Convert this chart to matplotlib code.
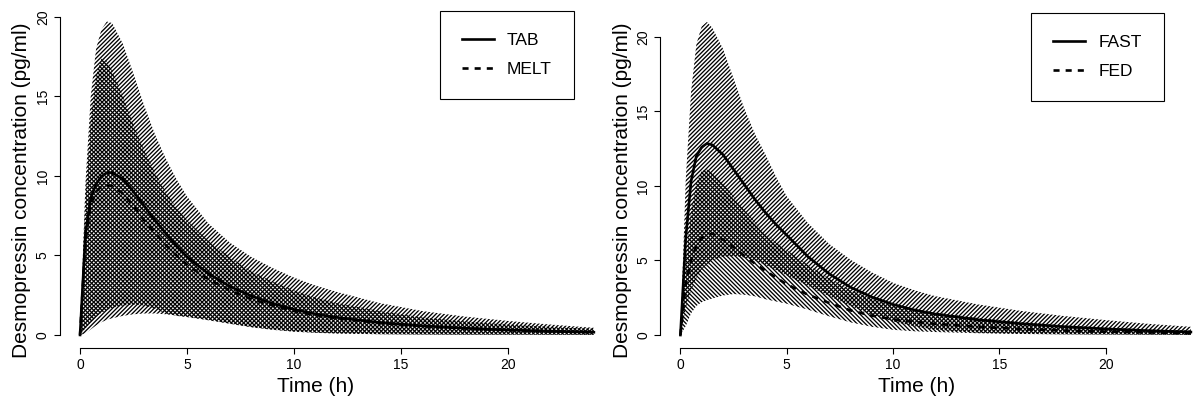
import numpy as np
import matplotlib.pyplot as plt

plt.rcParams['font.family'] = ['Liberation Sans', 'DejaVu Sans']
plt.rcParams['hatch.linewidth'] = 0.95

# sampling times (h)
t = np.array([0, 0.25, 0.5, 0.75, 1, 1.25, 1.5, 2, 2.5, 3, 3.5, 4, 4.5, 5,
              6, 7, 8, 9, 10, 11, 12, 14, 16, 18, 20, 22, 24])

# formulation: tablet vs melt
tab_mean = np.array([0, 6.3, 8.6, 9.5, 9.95, 10.2, 10.2, 9.8, 9.0, 8.1, 7.2, 6.4, 5.6, 4.9,
                     3.85, 3.05, 2.45, 1.98, 1.6, 1.32, 1.1, 0.78, 0.57, 0.42, 0.31, 0.23, 0.17])
tab_hi = np.array([0, 9.5, 15.0, 18.0, 19.2, 19.7, 19.6, 18.3, 16.4, 14.4, 12.6, 11.1, 9.8, 8.7,
                   7.0, 5.8, 4.9, 4.2, 3.6, 3.1, 2.7, 2.0, 1.5, 1.15, 0.88, 0.65, 0.45])
tab_lo = np.array([0, 0.1, 0.35, 0.6, 0.8, 0.95, 1.05, 1.2, 1.3, 1.35, 1.35, 1.3, 1.23, 1.15,
                   0.95, 0.72, 0.5, 0.34, 0.22, 0.15, 0.1, 0.05, 0.03, 0.02, 0.02, 0.01, 0.01])
melt_mean = np.array([0, 5.8, 8.2, 9.0, 9.35, 9.4, 9.35, 8.9, 8.1, 7.2, 6.4, 5.65, 5.0, 4.4,
                      3.5, 2.8, 2.25, 1.85, 1.5, 1.25, 1.05, 0.75, 0.55, 0.41, 0.3, 0.23, 0.17])
melt_hi = np.array([0, 8.5, 13.5, 16.3, 17.4, 17.2, 16.6, 15.0, 13.2, 11.6, 10.2, 9.0, 8.0, 7.2,
                    5.9, 4.9, 4.0, 3.35, 2.8, 2.35, 2.0, 1.5, 1.1, 0.85, 0.65, 0.5, 0.38])
melt_lo = np.array([0, 0.4, 0.8, 1.15, 1.4, 1.55, 1.7, 1.85, 1.9, 1.85, 1.65, 1.35, 1.2, 1.12,
                    0.92, 0.7, 0.48, 0.32, 0.2, 0.13, 0.09, 0.04, 0.02, 0.01, 0.01, 0.01, 0.0])

# food effect: fasted vs fed
fast_mean = np.array([0, 6.5, 10.3, 12.0, 12.6, 12.85, 12.75, 12.1, 11.1, 10.1, 9.1, 8.2, 7.4, 6.7,
                      5.25, 4.1, 3.2, 2.55, 2.05, 1.68, 1.4, 1.02, 0.76, 0.56, 0.41, 0.29, 0.2])
fast_hi = np.array([0, 10.4, 16.3, 19.5, 20.7, 21.0, 20.6, 19.2, 17.2, 15.2, 13.5, 12.1, 10.6, 9.3,
                    7.5, 6.1, 5.05, 4.2, 3.5, 3.0, 2.6, 2.05, 1.62, 1.28, 1.0, 0.75, 0.55])
fast_lo = np.array([0, 1.8, 3.0, 3.8, 4.4, 4.75, 5.0, 5.25, 5.3, 5.2, 5.0, 4.7, 4.35, 4.0,
                    3.3, 2.6, 1.95, 1.35, 0.9, 0.58, 0.35, 0.15, 0.08, 0.05, 0.03, 0.02, 0.01])
fed_mean = np.array([0, 3.4, 5.0, 6.0, 6.5, 6.7, 6.8, 6.4, 5.9, 5.3, 4.8, 4.3, 3.85, 3.4,
                     2.7, 2.15, 1.65, 1.3, 1.05, 0.88, 0.75, 0.55, 0.4, 0.3, 0.22, 0.17, 0.12])
fed_hi = np.array([0, 5.0, 8.3, 10.2, 11.0, 11.1, 10.9, 10.2, 9.3, 8.4, 7.6, 6.8, 6.2, 5.7,
                   4.7, 3.8, 3.0, 2.45, 2.0, 1.72, 1.5, 1.15, 0.88, 0.65, 0.5, 0.38, 0.3])
fed_lo = np.array([0, 0.6, 1.45, 1.95, 2.2, 2.35, 2.45, 2.65, 2.75, 2.7, 2.6, 2.4, 2.25, 2.1,
                   1.7, 1.25, 0.85, 0.55, 0.35, 0.25, 0.2, 0.12, 0.07, 0.04, 0.03, 0.02, 0.01])

ticks = [0, 5, 10, 15, 20]

W, H = 1193, 407
fig = plt.figure(figsize=(W / 100, H / 100), dpi=100)


def panel(rect, ylim, bands, labels, legend_corner, xlab_x, ylab_x, ylab_y):
    ax = fig.add_axes(rect)
    ax.patch.set_alpha(0)
    (m1, lo1, hi1), (m2, lo2, hi2) = bands
    ax.fill_between(t, lo1, hi1, facecolor='none', edgecolor='black',
                    hatch='/' * 8, linewidth=0)
    ax.fill_between(t, lo2, hi2, facecolor='none', edgecolor='black',
                    hatch='\\' * 8, linewidth=0)
    ax.plot(t, m1, color='black', lw=1.9, label=labels[0])
    ax.plot(t, m2, color='black', lw=1.9, dashes=(2.3, 2.3), label=labels[1])

    ax.set_xlim(-0.96, 24.1)
    ax.set_ylim(*ylim)
    ax.set_xticks(ticks)
    ax.set_yticks(ticks)
    for s in ['top', 'right']:
        ax.spines[s].set_visible(False)
    ax.spines['left'].set_bounds(0, 20)
    ax.spines['bottom'].set_bounds(0, 20)
    for s in ['left', 'bottom']:
        ax.spines[s].set_linewidth(0.8)
    ax.tick_params(length=4, width=0.8, labelsize=10, pad=3)
    ax.tick_params(axis='y', labelrotation=90)
    for lab in ax.get_yticklabels():
        lab.set_va('center')

    ax.set_xlabel('Time (h)', fontsize=15, va='center')
    ax.xaxis.set_label_coords(xlab_x, -0.113)
    ax.set_ylabel('Desmopressin concentration (pg/ml)', fontsize=15,
                  va='center', ha='center')
    ax.yaxis.set_label_coords(ylab_x, ylab_y)

    leg = ax.legend(loc='upper right', bbox_to_anchor=legend_corner,
                    bbox_transform=fig.transFigure, fontsize=12.5,
                    frameon=True, fancybox=False, framealpha=1,
                    handlelength=1.85, handletextpad=0.75, borderpad=1.28,
                    labelspacing=0.77, borderaxespad=0)
    leg.get_frame().set_edgecolor('black')
    leg.get_frame().set_linewidth(0.8)
    return ax


bottom = (H - 348) / H
height = 344 / H

panel([59.5 / W, bottom, 536.5 / W, height], (-0.82, 20.8),
      [(tab_mean, tab_lo, tab_hi), (melt_mean, melt_lo, melt_hi)],
      ['TAB', 'MELT'], (574 / W, 1 - 11 / H), 0.478, -0.07, 0.459)

panel([660 / W, bottom, 533 / W, height], (-0.87, 22.2),
      [(fast_mean, fast_lo, fast_hi), (fed_mean, fed_lo, fed_hi)],
      ['FAST', 'FED'], (1164 / W, 1 - 13 / H), 0.482, -0.071, 0.459)

fig.savefig('out.png', dpi=100)
